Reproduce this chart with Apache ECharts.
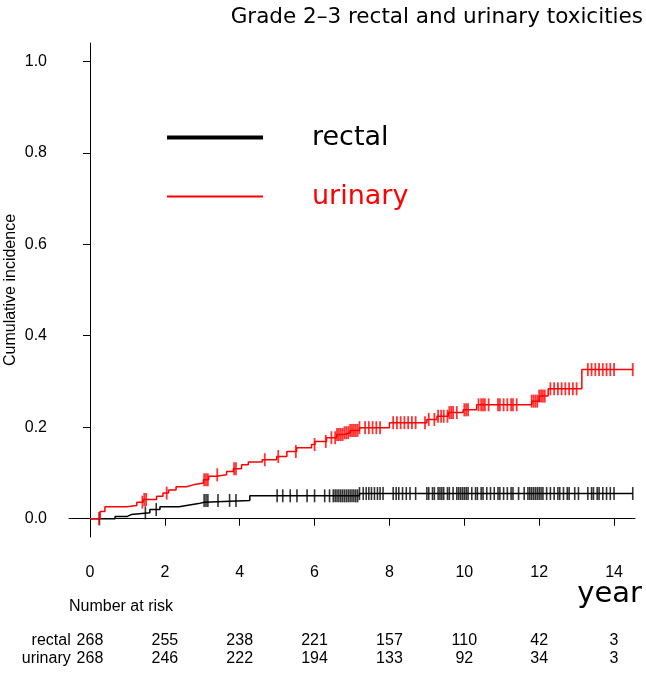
<!DOCTYPE html>
<html>
<head>
<meta charset="utf-8">
<script src="https://cdn.jsdelivr.net/npm/echarts@6/dist/echarts.min.js"></script>
<style>
  html, body { margin: 0; padding: 0; background: #fff; }
  #chart { width: 646px; height: 681px; }
</style>
</head>
<body>
<div id="chart"></div>
<script>
// step points [year, cumulative incidence]
var urinarySteps = [
  [0, 0], [0.27, 0.016], [0.40, 0.026], [0.98, 0.029], [1.25, 0.036], [1.42, 0.042],
  [1.78, 0.049], [1.95, 0.056], [2.1, 0.063], [2.3, 0.07], [2.58, 0.074], [2.76, 0.078],
  [3.03, 0.085], [3.17, 0.093], [3.38, 0.096], [3.65, 0.103], [3.83, 0.109], [4.05, 0.118],
  [4.23, 0.124], [4.6, 0.129], [4.99, 0.136], [5.26, 0.147], [5.52, 0.155], [5.92, 0.162],
  [6.01, 0.169], [6.32, 0.177], [6.59, 0.184], [6.8, 0.188], [6.95, 0.193], [7.2, 0.199],
  [8.0, 0.21], [9.0, 0.217], [9.27, 0.224], [9.57, 0.232], [9.97, 0.238], [10.33, 0.249],
  [11.8, 0.257], [12.0, 0.268], [12.24, 0.284], [13.14, 0.326], [14.5, 0.326]
];
var rectalSteps = [
  [0, 0], [0.67, 0.005], [1.0, 0.009], [1.1, 0.013], [1.6, 0.02], [1.87, 0.026],
  [2.38, 0.029], [2.58, 0.033], [2.9, 0.036], [3.05, 0.04], [4.27, 0.05], [7.2, 0.055],
  [14.5, 0.055]
];

// censoring times
var rectalCensor = [0.25, 1.48, 1.77, 3.05, 3.1, 3.15, 3.42, 3.73, 3.9, 5.0, 5.15, 5.35, 5.53, 5.8, 6.0,
  6.27, 6.4, 6.5, 6.55, 6.6, 6.65, 6.7, 6.75, 6.8, 6.85, 6.9, 6.95, 7.0, 7.05, 7.1, 7.15, 7.2,
  7.3, 7.38, 7.45, 7.52, 7.6, 7.68, 7.75, 7.83, 8.1, 8.18, 8.25, 8.35, 8.45, 8.55, 8.7,
  9.0, 9.05, 9.15, 9.2, 9.3, 9.35, 9.4, 9.45, 9.55, 9.6, 9.7, 9.8, 9.85, 9.9, 9.95, 10.0,
  10.05, 10.1, 10.2, 10.3, 10.35, 10.45, 10.5, 10.6, 10.7, 10.8, 10.9, 10.95, 11.05, 11.15,
  11.25, 11.3, 11.45, 11.6, 11.7, 11.75, 11.8, 11.85, 11.9, 11.95, 12.0, 12.05, 12.1, 12.2,
  12.3, 12.4, 12.5, 12.55, 12.65, 12.75, 12.8, 12.95, 13.05, 13.3, 13.4, 13.45, 13.55, 13.6,
  13.7, 13.8, 13.9, 14.0, 14.5];
var urinaryCensor = [0.25, 1.4, 1.45, 1.5, 2.05, 3.05, 3.1, 3.15, 3.4, 3.85, 3.9, 4.67, 5.03, 5.5,
  6.0, 6.3, 6.45, 6.55, 6.6, 6.65, 6.7, 6.75, 6.8, 6.85, 6.9, 6.95, 7.0, 7.05, 7.1, 7.15, 7.2,
  7.35, 7.45, 7.55, 7.65, 7.75, 8.1, 8.2, 8.3, 8.4, 8.5, 8.6, 8.7, 8.95, 9.05, 9.2, 9.3, 9.38,
  9.45, 9.55, 9.6, 9.65, 9.7, 9.8, 10.0, 10.05, 10.1, 10.38, 10.45, 10.5, 10.55, 10.65, 10.9,
  10.95, 11.05, 11.15, 11.25, 11.3, 11.4, 11.8, 11.85, 11.9, 11.95, 12.0, 12.05, 12.1, 12.15,
  12.3, 12.4, 12.5, 12.6, 12.7, 12.8, 12.9, 13.0, 13.3, 13.4, 13.5, 13.6, 13.7, 13.8, 13.9,
  14.0, 14.5];

var xTicks = [0, 2, 4, 6, 8, 10, 12, 14];
var yTicks = [0, 0.2, 0.4, 0.6, 0.8, 1.0];
var rectalRisk = [268, 255, 238, 221, 157, 110, 42, 3];
var urinaryRisk = [268, 246, 222, 194, 133, 92, 34, 3];

// value of a step curve at time t
function stepValue(steps, t) {
  var v = 0;
  for (var i = 0; i < steps.length; i++) {
    if (steps[i][0] <= t + 1e-9) v = steps[i][1];
  }
  return v;
}
function censorPoints(steps, times) {
  return times.map(function (t) { return [t, stepValue(steps, t)]; });
}

var SANS = 'Liberation Sans';
var TITLE_FONT = 'DejaVu Sans';
var RED = '#ff0000';

var chart = echarts.init(document.getElementById('chart'));

function riskAxis(name, counts, offset) {
  return {
    type: 'value', min: -0.56, max: 14.56, position: 'bottom', offset: offset,
    name: name, nameLocation: 'start', nameGap: -6,
    nameTextStyle: { fontFamily: SANS, fontSize: 16, color: '#000', align: 'right', verticalAlign: 'top' },
    axisLine: { show: false }, axisTick: { show: false }, splitLine: { show: false },
    axisLabel: {
      customValues: xTicks, margin: 0, fontFamily: SANS, fontSize: 16, color: '#000',
      formatter: function (v) { return String(counts[xTicks.indexOf(v)]); }
    }
  };
}

var option = {
  animation: false,
  backgroundColor: '#fff',
  title: [
    {
      text: 'Grade 2–3 rectal and urinary toxicities', right: 3, top: 6, padding: 0,
      textStyle: { fontFamily: TITLE_FONT, fontSize: 21.5, fontWeight: 'normal', color: '#000' }
    },
    {
      text: 'Number at risk', left: 69, top: 599, padding: 0,
      textStyle: { fontFamily: SANS, fontSize: 16, fontWeight: 'normal', color: '#000' }
    },
    {
      text: 'year', right: 4, top: 580, padding: 0,
      textStyle: { fontFamily: TITLE_FONT, fontSize: 29, fontWeight: 'normal', color: '#000' }
    }
  ],
  legend: [
    {
      data: [{ name: 'rectal', icon: 'rect' }], left: 167, top: 124, padding: 0,
      itemWidth: 96, itemHeight: 4, selectedMode: false,
      itemStyle: { color: '#000' },
      textStyle: { fontFamily: TITLE_FONT, fontSize: 27, color: '#000', padding: [0, 0, 0, 44] }
    },
    {
      data: [{ name: 'urinary', icon: 'rect' }], left: 167, top: 183, padding: 0,
      itemWidth: 96, itemHeight: 2, selectedMode: false,
      itemStyle: { color: RED },
      textStyle: { fontFamily: TITLE_FONT, fontSize: 27, color: RED, padding: [0, 0, 0, 44] }
    }
  ],
  grid: { left: 69, right: 11, top: 43, bottom: 144, containLabel: false, outerBoundsMode: 'none' },
  xAxis: [
    {
      type: 'value', min: -0.56, max: 14.56, position: 'bottom',
      axisLine: { show: true, lineStyle: { color: '#000', width: 1 } },
      axisTick: { show: false }, axisLabel: { show: false }, splitLine: { show: false }
    },
    {
      type: 'value', min: -0.56, max: 14.56, position: 'bottom', offset: 3,
      axisLine: { show: false },
      axisTick: { show: true, customValues: xTicks, length: 7, lineStyle: { color: '#000' } },
      axisLabel: { customValues: xTicks, margin: 25, fontFamily: SANS, fontSize: 16, color: '#000' },
      splitLine: { show: false }
    },
    riskAxis('rectal', rectalRisk, 96),
    riskAxis('urinary', urinaryRisk, 114)
  ],
  yAxis: [
    {
      type: 'value', min: -0.04, max: 1.04, position: 'left',
      name: 'Cumulative incidence', nameLocation: 'middle', nameGap: 50,
      nameTextStyle: { fontFamily: SANS, fontSize: 16, color: '#000' },
      axisLine: { show: true, lineStyle: { color: '#000', width: 1 } },
      axisTick: { show: false }, axisLabel: { show: false }, splitLine: { show: false }
    },
    {
      type: 'value', min: -0.04, max: 1.04, position: 'left', offset: 2,
      axisLine: { show: false },
      axisTick: { show: true, customValues: yTicks, length: 7, lineStyle: { color: '#000' } },
      axisLabel: {
        customValues: yTicks, margin: 20, fontFamily: SANS, fontSize: 16, color: '#000',
        formatter: function (v) { return v.toFixed(1); }
      },
      splitLine: { show: false }
    }
  ],
  series: [
    {
      name: 'rectal', type: 'line', step: 'end', showSymbol: false, symbol: 'none',
      xAxisIndex: 0, yAxisIndex: 0,
      lineStyle: { color: '#000', width: 1.5 }, itemStyle: { color: '#000' },
      data: rectalSteps
    },
    {
      name: 'urinary', type: 'line', step: 'end', showSymbol: false, symbol: 'none',
      xAxisIndex: 0, yAxisIndex: 0,
      lineStyle: { color: RED, width: 1.5 }, itemStyle: { color: RED },
      data: urinarySteps
    },
    {
      name: 'rectal censored', type: 'scatter', xAxisIndex: 0, yAxisIndex: 0,
      symbol: 'rect', symbolSize: [1.6, 13], itemStyle: { color: '#000' },
      data: censorPoints(rectalSteps, rectalCensor)
    },
    {
      name: 'urinary censored', type: 'scatter', xAxisIndex: 0, yAxisIndex: 0,
      symbol: 'rect', symbolSize: [1.8, 13], itemStyle: { color: RED },
      data: censorPoints(urinarySteps, urinaryCensor)
    }
  ]
};

chart.setOption(option);
</script>
</body>
</html>
